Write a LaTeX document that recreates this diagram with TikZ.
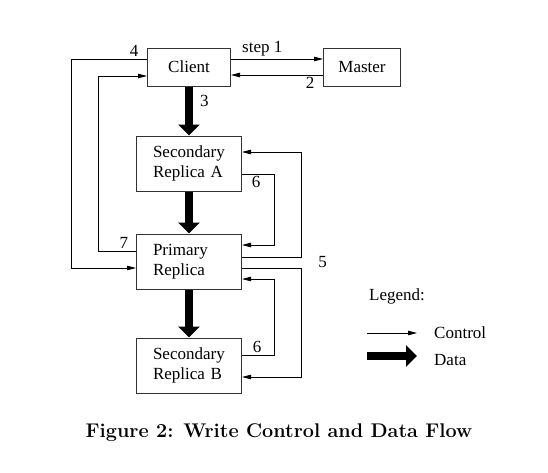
\documentclass[tikz,border=0pt]{standalone}
\usepackage{fontspec}
\newfontfamily\tms{Liberation Serif}
\newfontfamily\capfont{Latin Modern Roman}
\usetikzlibrary{positioning, arrows.meta}
\tikzset{kasten/.style={rectangle,draw=black!80,line width=1pt,minimum height=38pt,inner sep=0pt},
	replica/.style={kasten,minimum height=55pt,text width=72pt,inner xsep=16.5pt,align=left},
	ctrl/.style={line width=0.8pt,-{Triangle[length=9pt,width=4.5pt]}},
	daten/.style={line width=8pt,-{Triangle[length=11pt,width=21pt]}},
	marke/.style={inner sep=2pt} }

\begin{document}
\begin{tikzpicture}
	[x=1pt, y=-1pt, font=\tms\fontsize{17}{20.5}\selectfont]
  \useasboundingbox (0,0) rectangle (548,472);

  \node (client) [kasten, minimum width=83pt] at (189,67) {Client};
  \node (master) [kasten, minimum width=77pt, right=92pt of client] {Master};
  \node (secA) [replica, below=49pt of client] {Secondary\\Replica A};
  \node (prim) [replica, below=42pt of secA] {Primary\\Replica};
  \node (secB) [replica, below=48pt of prim] {Secondary\\Replica B};

  % data flow
  \draw [daten] (client) -- node [marke, pos=0.3, right=5pt] {3} (secA);
  \draw [daten] (secA) -- (prim);
  \draw [daten] (prim) -- (secB);

  % control flow
  \draw [ctrl] ([yshift=8pt]client.east) -- node [marke, pos=0.34, above] {step 1} ([yshift=8pt]master.west);
  \draw [ctrl] ([yshift=-8pt]master.west) -- node [marke, pos=0.14, below] {2} ([yshift=-8pt]client.east);
  \draw [ctrl] ([yshift=8pt]client.west) -- node [marke, pos=0.17, above] {4} ++(-76,0) |- ([yshift=-6.5pt]prim.west);
  \draw [ctrl] ([yshift=10.5pt]prim.west) -- node [marke, pos=0.32, above] {7} ++(-38,0) |- ([yshift=-9pt]client.west);
  \draw [ctrl] ([yshift=4.5pt]prim.east) -- ++(59,0) |- ([yshift=11.5pt]secA.east);
  \draw [ctrl] ([yshift=-6.5pt]prim.east) -- ++(59,0) node [marke, right=15pt, yshift=6pt] {5} |- ([yshift=-11.5pt]secB.east);
  \draw [ctrl] ([yshift=-10.5pt]secA.east) -- node [marke, pos=0.44, below] {6} ++(32,0) |- ([yshift=16.5pt]prim.east);
  \draw [ctrl] ([yshift=10.5pt]secB.east) -- node [marke, pos=0.47, above] {6} ++(32,0) |- ([yshift=-17.5pt]prim.east);

  % legend
  \node (legend) [marke] at (397,296) {Legend:};
  \coordinate (k1) at (367,333);
  \coordinate (k2) at (417,333);
  \coordinate (d1) at (367,356);
  \coordinate (d2) at (417,356);
  \draw [ctrl] (k1) -- (k2);
  \draw [daten] (d1) -- (d2);
  \node (ctrltext) [marke, anchor=west] at (432,333) {Control};
  \node (datatext) [marke, anchor=west] at (432,360) {Data};

  \node (caption) at (279,433) {\capfont\fontsize{19.8}{23}\selectfont\bfseries Figure 2: Write Control and Data Flow};
\end{tikzpicture}
\end{document}
